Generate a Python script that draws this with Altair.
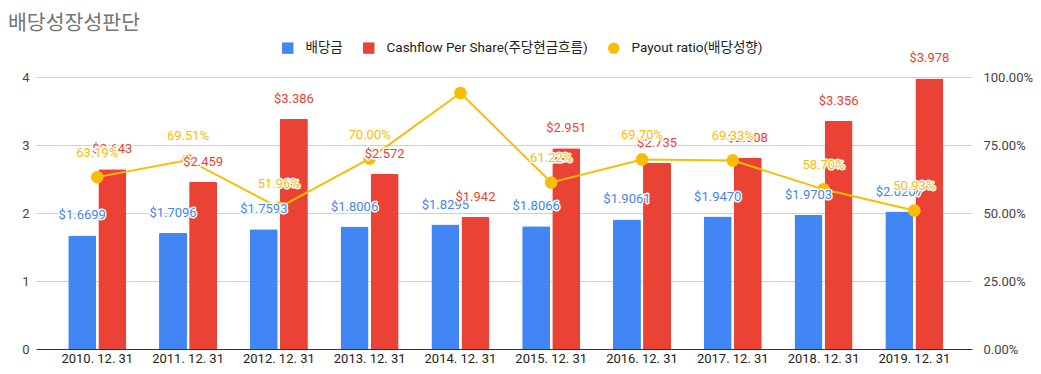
import altair as alt
import pandas as pd

chart_title = "배당성장성판단"
years = ["2010. 12. 31", "2011. 12. 31", "2012. 12. 31", "2013. 12. 31", "2014. 12. 31",
         "2015. 12. 31", "2016. 12. 31", "2017. 12. 31", "2018. 12. 31", "2019. 12. 31"]
series_names = ["배당금", "Cashflow Per Share(주당현금흐름)", "Payout ratio(배당성향)"]
colors = ["#4285F4", "#EA4335", "#FBBC04"]
dividend = [1.6699, 1.7096, 1.7593, 1.8006, 1.8295, 1.8066, 1.9061, 1.9470, 1.9703, 2.0207]
cfps = [2.643, 2.459, 3.386, 2.572, 1.942, 2.951, 2.735, 2.808, 3.356, 3.978]
payout = [0.6319, 0.6951, 0.5196, 0.7000, 0.9412, 0.6122, 0.6970, 0.6933, 0.5870, 0.5093]
payout_labels = ["63.19%", "69.51%", "51.96%", "70.00%", "", "61.22%", "69.70%", "69.33%", "58.70%", "50.93%"]
left_ticks = [0, 1, 2, 3, 4]
right_ticks = [0, 0.25, 0.5, 0.75, 1.0]

FONT = "Roboto, 'Noto Sans CJK KR', sans-serif"

div_df = pd.DataFrame({"year": years, "series": series_names[0], "value": dividend,
                       "label": [f"${v:.4f}" for v in dividend]})
cf_df = pd.DataFrame({"year": years, "series": series_names[1], "value": cfps,
                      "label": [f"${v:.3f}" for v in cfps]})
bar_df = pd.concat([div_df, cf_df], ignore_index=True)
pay_df = pd.DataFrame({"year": years, "series": series_names[2], "value": payout,
                       "label": payout_labels})

x_enc = alt.X("year:N", sort=years,
              scale=alt.Scale(paddingInner=0.36, paddingOuter=0.335, align=0.53),
              axis=alt.Axis(title=None, labelAngle=0, ticks=False, domainColor="#333333",
                            domainWidth=1, labelFontSize=13, labelColor="#222222",
                            labelPadding=3, labelFont=FONT, grid=False))
xoff = alt.XOffset("series:N", sort=series_names[:2],
                   scale=alt.Scale(domain=series_names[:2], paddingInner=0.07))

legend = alt.Legend(orient="none", legendX=245, legendY=-36, direction="horizontal",
                    title=None, symbolSize=130, labelFontSize=13.5, labelColor="#222222",
                    labelFont=FONT, columnPadding=19, labelOffset=11, symbolStrokeWidth=0,
                    labelLimit=400)
color_enc = alt.Color("series:N", scale=alt.Scale(domain=series_names, range=colors), legend=legend)
shape_enc = alt.Shape("series:N", scale=alt.Scale(domain=series_names,
                                                  range=["square", "square", "circle"]),
                      legend=legend)

yl_scale = alt.Scale(domain=[0, 4], nice=False)
yr_scale = alt.Scale(domain=[0, 1], nice=False)

y_left_axis = alt.Y("value:Q", scale=yl_scale,
                    axis=alt.Axis(title=None, values=left_ticks, format="d", grid=True,
                                  gridColor="#d0d0d0", domain=False, ticks=False,
                                  labelFontSize=13, labelColor="#444444", labelPadding=7,
                                  labelFont=FONT, orient="left"))
y_left_none = alt.Y("value:Q", scale=yl_scale, axis=None)
y_right_axis = alt.Y("value:Q", scale=yr_scale,
                     axis=alt.Axis(title=None, values=right_ticks, format=".2%", grid=False,
                                   domain=False, ticks=False, labelFontSize=13,
                                   labelColor="#444444", labelPadding=11, labelFont=FONT,
                                   orient="right"))
y_right_none = alt.Y("value:Q", scale=yr_scale, axis=None)

bars = alt.Chart(bar_df).mark_bar(cornerRadiusTopLeft=1.5, cornerRadiusTopRight=1.5).encode(
    x=x_enc, xOffset=xoff, y=y_left_axis, color=color_enc)

line = alt.Chart(pay_df).mark_line(strokeWidth=2, color=colors[2]).encode(
    x=x_enc, y=y_right_axis)
points = alt.Chart(pay_df).mark_point(filled=True, size=160, opacity=1).encode(
    x=x_enc, y=y_right_none, color=color_enc, shape=shape_enc)


def bar_labels(df, col):
    halo = alt.Chart(df).mark_text(dy=-20, baseline="middle", fontSize=13, font=FONT,
                                   stroke="white", strokeWidth=3, strokeJoin="round",
                                   fill="white").encode(
        x=x_enc, xOffset=xoff, y=y_left_none, text="label:N")
    txt = alt.Chart(df).mark_text(dy=-20, baseline="middle", fontSize=13, font=FONT,
                                  fill=col).encode(
        x=x_enc, xOffset=xoff, y=y_left_none, text="label:N")
    return [halo, txt]


pay_halo = alt.Chart(pay_df).mark_text(dy=-24, baseline="middle", fontSize=13, font=FONT,
                                       stroke="white", strokeWidth=3, strokeJoin="round",
                                       fill="white").encode(
    x=x_enc, y=y_right_none, text="label:N")
pay_txt = alt.Chart(pay_df).mark_text(dy=-24, baseline="middle", fontSize=13, font=FONT,
                                      fill=colors[2]).encode(
    x=x_enc, y=y_right_none, text="label:N")

layers = [bars, line, points] + bar_labels(div_df, colors[0]) + bar_labels(cf_df, colors[1]) + [pay_halo, pay_txt]

chart = alt.layer(*layers).resolve_scale(y="independent").properties(
    width=936, height=272,
    autosize=alt.AutoSizeParams(type="none"),
    padding={"left": 28, "top": 69, "right": 61, "bottom": 20},
    title=alt.TitleParams(chart_title, anchor="start", frame="group", dx=-28, fontSize=20.5,
                          color="#757575", font="'Noto Sans CJK KR', sans-serif",
                          fontWeight="normal", offset=7),
).configure_view(stroke=None)

chart.save("out.html", embed_options={"renderer": "svg", "actions": False})
